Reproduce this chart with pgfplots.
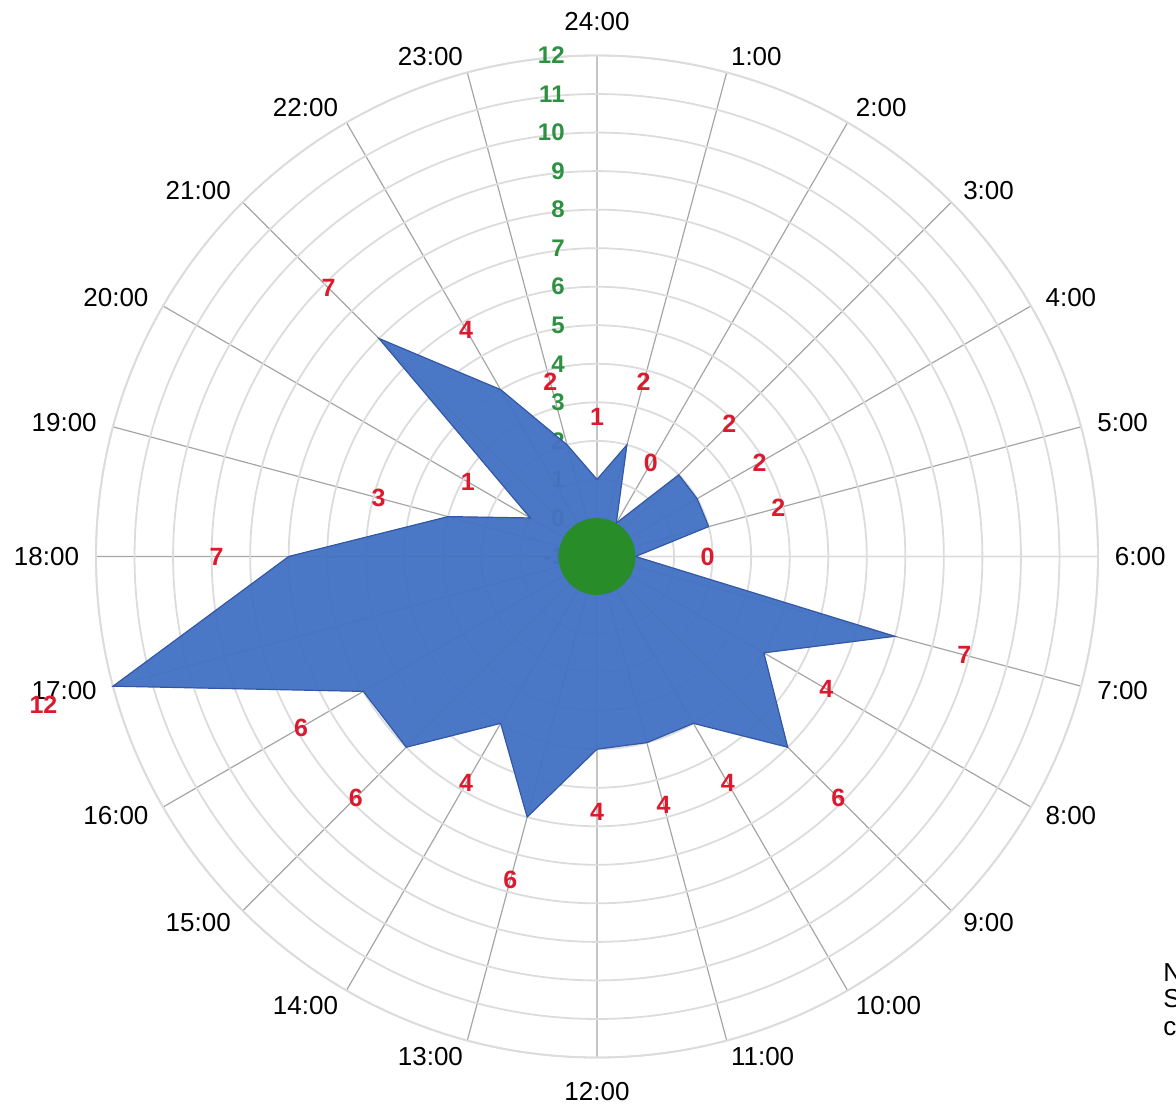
\documentclass[border=0pt]{standalone}
\usepackage{pgfplots}
\usepackage{pgfplotstable}
\pgfplotsset{compat=1.18}
\usepgfplotslibrary{polar}
\usepackage{fontspec}
\setmainfont{Liberation Sans}
\definecolor{areablue}{RGB}{68,114,196}
\definecolor{edgeblue}{RGB}{50,88,165}
\definecolor{diskgreen}{RGB}{40,140,40}
\definecolor{labgreen}{RGB}{45,145,65}
\definecolor{labred}{RGB}{220,25,45}
\definecolor{spoke}{RGB}{165,165,165}
\definecolor{ring}{RGB}{220,220,220}

% hour of day, value
\pgfplotstableread{
h v
0 1
1 2
2 0
3 2
4 2
5 2
6 0
7 7
8 4
9 6
10 4
11 4
12 4
13 6
14 4
15 6
16 6
17 12
18 7
19 3
20 1
21 7
22 4
23 2
24 1
}\hours

\begin{document}
\begin{tikzpicture}[
  declare function={cc(\h)=cos(15*\h)*cos(15*\h); off(\h)=1.87-0.25*cc(\h)*cc(\h)*cc(\h)*cc(\h);}]
\begin{polaraxis}[
  width=501pt, height=501pt, scale only axis,
  xmin=0, xmax=360, ymin=0, ymax=13,
  xtick={0,15,...,345}, ytick={1,...,13},
  xticklabels={}, yticklabels={},
  major tick length=0pt,
  xmajorgrids, ymajorgrids,
  major x grid style={spoke, line width=0.6pt},
  major y grid style={ring, line width=0.9pt},
  axis line style={ring, line width=0.9pt},
  clip=false,
]
\coordinate (c) at (axis cs:0,0);
% radial tick labels (green)
\begin{scope}[every node/.style={anchor=east, xshift=-15pt, text=labgreen, font=\fontsize{12}{14}\selectfont\bfseries, inner sep=1pt}]
\node at (axis cs:90,0) {-1};
\node at (axis cs:90,1) {0};
\node at (axis cs:90,2) {1};
\node at (axis cs:90,3) {2};
\node at (axis cs:90,4) {3};
\node at (axis cs:90,5) {4};
\node at (axis cs:90,6) {5};
\node at (axis cs:90,7) {6};
\node at (axis cs:90,8) {7};
\node at (axis cs:90,9) {8};
\node at (axis cs:90,10) {9};
\node at (axis cs:90,11) {10};
\node at (axis cs:90,12) {11};
\node at (axis cs:90,13) {12};
\end{scope}

\addplot[fill=areablue, draw=edgeblue, line width=0.6pt, fill opacity=0.96]
  table[x expr=90-15*\thisrow{h}, y expr=\thisrow{v}+1]{\hours};

\fill[diskgreen] (c) circle[radius=19.2pt];

\addplot[only marks, mark=*, mark size=0pt, mark options={draw=none, fill=none},
  skip coords between index={24}{25},
  point meta=explicit symbolic,
  nodes near coords,
  every node near coord/.style={anchor=center, text=labred, font=\fontsize{12.5}{14}\selectfont\bfseries, inner sep=0pt}]
  table[x expr=90-15*\thisrow{h}, y expr=\thisrow{v}+1+off(\thisrow{h}), meta=v]{\hours};

\begin{scope}[every node/.style={font=\fontsize{13}{15}\selectfont, inner sep=0pt, outer sep=0pt}]
\node[anchor=south] at (axis cs:90,13.65) {24:00};
\node[anchor=west] at (axis cs:75,13.44) {1:00};
\node[anchor=west] at (axis cs:60,13.44) {2:00};
\node[anchor=west] at (axis cs:45,13.44) {3:00};
\node[anchor=west] at (axis cs:30,13.44) {4:00};
\node[anchor=west] at (axis cs:15,13.44) {5:00};
\node[anchor=west] at (axis cs:0,13.44) {6:00};
\node[anchor=west] at (axis cs:-15,13.44) {7:00};
\node[anchor=west] at (axis cs:-30,13.44) {8:00};
\node[anchor=west] at (axis cs:-45,13.44) {9:00};
\node[anchor=west] at (axis cs:-60,13.44) {10:00};
\node[anchor=west] at (axis cs:-75,13.44) {11:00};
\node[anchor=north] at (axis cs:-90,13.65) {12:00};
\node[anchor=east] at (axis cs:-105,13.44) {13:00};
\node[anchor=east] at (axis cs:-120,13.44) {14:00};
\node[anchor=east] at (axis cs:-135,13.44) {15:00};
\node[anchor=east] at (axis cs:-150,13.44) {16:00};
\node[anchor=east] at (axis cs:-165,13.44) {17:00};
\node[anchor=east] at (axis cs:180,13.44) {18:00};
\node[anchor=east] at (axis cs:165,13.44) {19:00};
\node[anchor=east] at (axis cs:150,13.44) {20:00};
\node[anchor=east] at (axis cs:135,13.44) {21:00};
\node[anchor=east] at (axis cs:120,13.44) {22:00};
\node[anchor=east] at (axis cs:105,13.44) {23:00};
\end{scope}
\end{polaraxis}
\path (c) ++(283pt,-208pt) node[anchor=west, inner sep=0pt, font=\fontsize{13}{15}\selectfont] {N};
\path (c) ++(283pt,-221pt) node[anchor=west, inner sep=0pt, font=\fontsize{13}{15}\selectfont] {S};
\path (c) ++(283pt,-236pt) node[anchor=west, inner sep=0pt, font=\fontsize{13}{15}\selectfont] {c};
\pgfresetboundingbox
\path[use as bounding box] (c) ++(-298.5pt,-275.75pt) rectangle ++(588pt,554pt);
\end{tikzpicture}
\end{document}
